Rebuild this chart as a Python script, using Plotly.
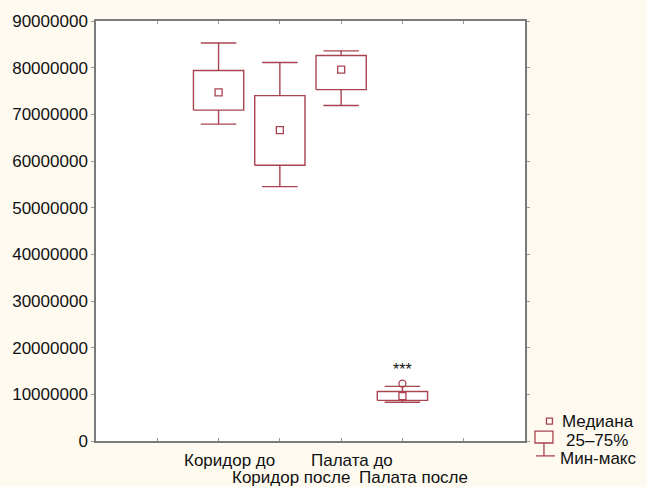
import plotly.graph_objects as go

# ---- data ----
categories = ["Коридор до", "Коридор после", "Палата до", "Палата после"]
positions = [2, 3, 4, 5]
mins = [67900000, 54500000, 71900000, 8300000]
q1s = [70900000, 59100000, 75300000, 8700000]
medians = [74700000, 66600000, 79600000, 9600000]
q3s = [79400000, 74000000, 82600000, 10600000]
maxs = [85300000, 81100000, 83600000, 11700000]
outlier_cat = [5]
outlier_val = [12300000]
signif_cat = [5]
signif_text = ["***"]
legend_labels = ["Медиана", "25–75%", "Мин-макс"]
y_ticks = list(range(0, 90000001, 10000000))

# ---- style ----
COL = "#A8434F"
FONT = "Liberation Sans, Arial, sans-serif"
BOX_HW = 0.41
CAP_HW = 0.29
W, H = 647, 487
L, R, T, B = 95, 122, 18, 46
PW, PH = W - L - R, H - T - B

fig = go.Figure()

for p, lo, a, m, b, hi in zip(positions, mins, q1s, medians, q3s, maxs):
    # box
    fig.add_trace(go.Scatter(
        x=[p - BOX_HW, p + BOX_HW, p + BOX_HW, p - BOX_HW, p - BOX_HW],
        y=[a, a, b, b, a], mode="lines",
        line=dict(color=COL, width=1.4), hoverinfo="skip"))
    # whiskers + caps
    fig.add_trace(go.Scatter(
        x=[p, p, None, p, p, None, p - CAP_HW, p + CAP_HW, None, p - CAP_HW, p + CAP_HW],
        y=[b, hi, None, a, lo, None, hi, hi, None, lo, lo], mode="lines",
        line=dict(color=COL, width=1.4), hoverinfo="skip"))
    # median marker
    fig.add_trace(go.Scatter(
        x=[p], y=[m], mode="markers",
        marker=dict(symbol="square-open", size=7, color=COL, line=dict(width=1.3)),
        hoverinfo="skip"))

fig.add_trace(go.Scatter(
    x=outlier_cat, y=outlier_val, mode="markers",
    marker=dict(symbol="circle-open", size=7, color=COL, line=dict(width=1.3)),
    hoverinfo="skip"))

annotations = []
for c, t in zip(signif_cat, signif_text):
    annotations.append(dict(x=c, y=outlier_val[0], xref="x", yref="y", text=t,
                            showarrow=False, yanchor="bottom", yshift=4,
                            font=dict(family=FONT, size=16, color="#111")))

# staggered category labels
for i, (p, lab) in enumerate(zip(positions, categories)):
    annotations.append(dict(x=p, y=0, xref="x", yref="paper", text=lab,
                            showarrow=False, yanchor="top", xanchor="center",
                            xshift=11, yshift=-8 if i % 2 == 0 else -25,
                            font=dict(family=FONT, size=17, color="#111")))

# legend (drawn manually)
def px(x):
    return (x - L) / PW

def py(y):
    return (H - B - y) / PH

shapes = [
    dict(type="rect", xref="paper", yref="paper", x0=px(546.5), x1=px(552.5),
         y0=py(424), y1=py(418), line=dict(color=COL, width=1.3)),
    dict(type="rect", xref="paper", yref="paper", x0=px(535), x1=px(553),
         y0=py(443), y1=py(431), line=dict(color=COL, width=1.3)),
    dict(type="line", xref="paper", yref="paper", x0=px(544), x1=px(544),
         y0=py(443), y1=py(456), line=dict(color=COL, width=1.3)),
    dict(type="line", xref="paper", yref="paper", x0=px(536), x1=px(555),
         y0=py(456), y1=py(456), line=dict(color=COL, width=1.3)),
]
for lab, yy, xx in zip(legend_labels, [421, 440, 459], [560, 564, 558]):
    annotations.append(dict(x=px(xx), y=py(yy), xref="paper", yref="paper",
                            text=lab, showarrow=False, xanchor="left",
                            yanchor="middle",
                            font=dict(family=FONT, size=17, color="#111")))

fig.update_layout(
    width=W, height=H,
    margin=dict(l=L, r=R, t=T, b=B, pad=0),
    paper_bgcolor="#FEFAF0", plot_bgcolor="#FFFFFF",
    showlegend=False,
    font=dict(family=FONT, size=17, color="#111"),
    annotations=annotations, shapes=shapes,
)
fig.update_xaxes(range=[0, 7], tickvals=[1, 2, 3, 4, 5, 6], ticktext=[""] * 6,
                 showgrid=False, zeroline=False, showline=True, linecolor="#7a7a7a",
                 linewidth=1.5, mirror="ticks", ticks="inside", ticklen=3,
                 tickcolor="#999")
fig.update_yaxes(range=[0, 90000000], tickvals=y_ticks,
                 ticktext=[str(v) for v in y_ticks],
                 showgrid=False, zeroline=False, showline=True, linecolor="#7a7a7a",
                 linewidth=1.5, mirror="ticks", ticks="outside", ticklen=3,
                 tickcolor="#999", tickfont=dict(size=17, color="#111"))

fig.write_html(
    "out.html",
    config={"displayModeBar": False},
    post_script="document.body.style.margin='0';document.body.style.background='#FEFAF0';",
)
